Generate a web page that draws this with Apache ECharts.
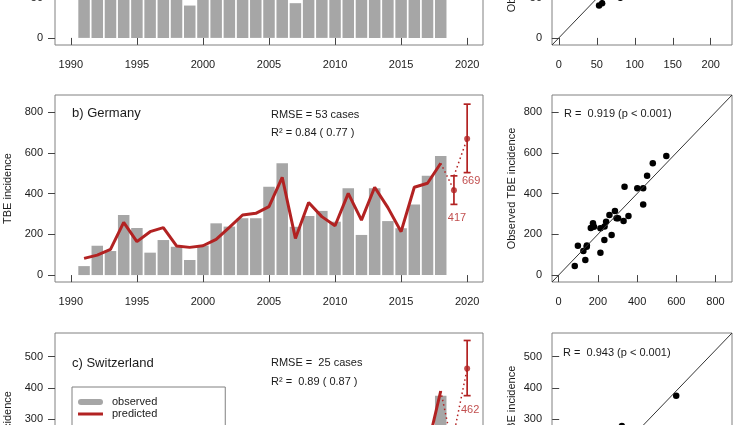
<!DOCTYPE html>
<html>
<head>
<meta charset="utf-8">
<script src="https://cdn.jsdelivr.net/npm/echarts@6/dist/echarts.min.js"></script>
<style>
    html, body { margin: 0; padding: 0; background: #fff; }
    #chart { width: 736px; height: 425px; }
</style>
</head>
<body>
<div id="chart"></div>
<script>
// years with observed / predicted TBE cases
const years = [1991, 1992, 1993, 1994, 1995, 1996, 1997, 1998, 1999, 2000,
    2001, 2002, 2003, 2004, 2005, 2006, 2007, 2008, 2009, 2010,
    2011, 2012, 2013, 2014, 2015, 2016, 2017, 2018]

// a) Austria (only the bottom of this panel is visible)
const observedAT = [89, 84, 102, 178, 109, 128, 99, 62, 41, 60, 56, 60, 82, 56, 100, 84, 44, 86, 79, 63, 113, 51, 99, 81, 73, 89, 116, 154]
const predictedAT = [95, 88, 98, 140, 115, 120, 95, 70, 53, 62, 65, 68, 78, 66, 92, 86, 57, 80, 76, 70, 100, 81, 92, 84, 78, 92, 110, 140]

// b) Germany
const observedDE = [44, 144, 118, 295, 231, 110, 172, 139, 74, 145, 254, 238, 279, 279, 434, 549, 237, 290, 315, 262, 426, 197, 426, 265, 230, 347, 487, 585]
const predictedDE = [82, 98, 126, 259, 164, 213, 233, 143, 136, 144, 175, 234, 295, 303, 336, 480, 180, 356, 287, 242, 401, 270, 431, 331, 213, 431, 451, 549]

// c) Switzerland (only the top of this panel is visible)
const observedCH = [75, 85, 100, 85, 60, 62, 123, 68, 112, 91, 107, 52, 115, 125, 204, 259, 108, 117, 115, 96, 174, 95, 204, 113, 117, 206, 278, 375]
const predictedCH = [70, 80, 95, 88, 70, 66, 110, 75, 105, 90, 100, 65, 110, 130, 190, 240, 120, 125, 118, 100, 165, 105, 190, 125, 120, 195, 209, 390]

// forecasts 2019 / 2020 with intervals
const forecastYears = [2019, 2020]
const forecastAT = [120, 160]
const lowAT = [85, 110]
const highAT = [155, 210]
const forecastDE = [417, 669]
const lowDE = [347, 503]
const highDE = [487, 839]
const forecastCH = [190, 462]
const lowCH = [130, 375]
const highCH = [253, 552]

// tick labels
const yearTicks = [1990, 1995, 2000, 2005, 2010, 2015, 2020]
const ticksAT = [0, 50, 100, 150, 200]
const ticksDE = [0, 200, 400, 600, 800]
const ticksCH = [0, 100, 200, 300, 400, 500]

const font = 'Liberation Sans, Arial, Helvetica, sans-serif'
const red = '#b22222'
const grey = '#a6a6a6'
const boxCol = '#808080'
const ink = '#1a1a1a'

const panels = [
    { obs: observedAT, pred: predictedAT, fc: forecastAT, lo: lowAT, hi: highAT, ticks: ticksAT, lim: [-9, 228], top: -142, lab: [[3, 28], [4, 42]] },
    { obs: observedDE, pred: predictedDE, fc: forecastDE, lo: lowDE, hi: highDE, ticks: ticksDE, lim: [-34, 884], top: 95, lab: [[3, 28], [4, 42]] },
    { obs: observedCH, pred: predictedCH, fc: forecastCH, lo: lowCH, hi: highCH, ticks: ticksCH, lim: [-24, 576], top: 333, lab: [[3, 28], [3, 41]] }
]

function axis(gi, min, max, ticks, margin, extra) {
    return Object.assign({
        gridIndex: gi,
        type: 'value',
        min: min,
        max: max,
        axisLine: { show: false },
        splitLine: { show: false },
        axisTick: { show: true, inside: false, length: 7, customValues: ticks, lineStyle: { color: '#444', width: 1 } },
        axisLabel: { customValues: ticks, margin: margin, fontSize: 11, color: ink, fontFamily: font, formatter: v => String(v) }
    }, extra || {})
}

const grid = [], xAxis = [], yAxis = [], series = []

panels.forEach((p, i) => {
    const g1 = 2 * i, g2 = 2 * i + 1
    grid.push({ left: 55, top: p.top, width: 428, height: 187, show: true, borderColor: boxCol, borderWidth: 1, containLabel: false, outerBoundsMode: 'none' })
    grid.push({ left: 552, top: p.top, width: 180, height: 187, show: true, borderColor: boxCol, borderWidth: 1, containLabel: false, outerBoundsMode: 'none' })
    xAxis.push(axis(g1, 1988.8, 2021.2, yearTicks, 14))
    yAxis.push(axis(g1, p.lim[0], p.lim[1], p.ticks, 12, {
        name: 'TBE incidence', nameLocation: 'middle', nameGap: 41,
        nameTextStyle: { fontSize: 11, color: ink, fontFamily: font }
    }))
    xAxis.push(axis(g2, p.lim[0], p.lim[1], p.ticks, 14))
    yAxis.push(axis(g2, p.lim[0], p.lim[1], p.ticks, 10, {
        name: 'Observed TBE incidence', nameLocation: 'middle', nameGap: 35,
        nameTextStyle: { fontSize: 11, color: ink, fontFamily: font }
    }))

    // observed bars
    series.push({
        type: 'bar', name: 'observed', xAxisIndex: g1, yAxisIndex: g1,
        data: years.map((y, k) => [y, p.obs[k]]),
        barWidth: 11.5, itemStyle: { color: grey }
    })
    // predicted line
    series.push({
        type: 'line', name: 'predicted', xAxisIndex: g1, yAxisIndex: g1,
        data: years.map((y, k) => [y, p.pred[k]]),
        symbol: 'none', lineStyle: { color: red, width: 3 }, itemStyle: { color: red }, z: 3
    })
    // dotted links to the forecasts
    const last = years.length - 1
    series.push({
        type: 'line', xAxisIndex: g1, yAxisIndex: g1, symbol: 'none',
        data: [[years[last], p.pred[last]], [forecastYears[0], p.fc[0]]],
        lineStyle: { color: red, width: 1.5, type: [1.5, 3] }, z: 3
    })
    series.push({
        type: 'line', xAxisIndex: g1, yAxisIndex: g1, symbol: 'none',
        data: [[forecastYears[0], p.hi[0]], [forecastYears[1], p.fc[1]]],
        lineStyle: { color: red, width: 1.5, type: [1.5, 3] }, z: 3
    })
    // error bars
    series.push({
        type: 'custom', xAxisIndex: g1, yAxisIndex: g1,
        data: forecastYears.map((y, k) => [y, p.lo[k], p.hi[k]]),
        encode: { x: 0, y: [1, 2] },
        renderItem: (params, api) => {
            const lo = api.coord([api.value(0), api.value(1)])
            const hi = api.coord([api.value(0), api.value(2)])
            const w = 3.5
            const st = { stroke: red, lineWidth: 1.7 }
            return {
                type: 'group',
                children: [
                    { type: 'line', shape: { x1: lo[0], y1: lo[1], x2: hi[0], y2: hi[1] }, style: st },
                    { type: 'line', shape: { x1: lo[0] - w, y1: lo[1], x2: lo[0] + w, y2: lo[1] }, style: st },
                    { type: 'line', shape: { x1: hi[0] - w, y1: hi[1], x2: hi[0] + w, y2: hi[1] }, style: st }
                ]
            }
        },
        z: 4
    })
    // forecast points + value labels
    series.push({
        type: 'scatter', xAxisIndex: g1, yAxisIndex: g1,
        data: forecastYears.map((y, k) => ({ value: [y, p.fc[k]], label: { offset: p.lab[k] } })),
        symbolSize: 6, itemStyle: { color: red },
        label: { show: true, position: 'inside', formatter: d => String(d.value[1]), color: red, fontSize: 11, fontFamily: font },
        z: 5
    })

    // scatter: 1:1 line and points
    series.push({
        type: 'line', xAxisIndex: g2, yAxisIndex: g2, symbol: 'none',
        data: [[p.lim[0], p.lim[0]], [p.lim[1], p.lim[1]]],
        lineStyle: { color: '#333', width: 1 }
    })
    series.push({
        type: 'scatter', xAxisIndex: g2, yAxisIndex: g2,
        data: years.map((y, k) => [p.pred[k], p.obs[k]]),
        symbolSize: 6.5, itemStyle: { color: '#000', opacity: 1 }
    })
})

function label(x, y, text, size) {
    return { type: 'text', x: x, y: y, style: { text: text, font: (size || 11) + 'px ' + font, fill: ink, verticalAlign: 'middle' } }
}

const myChart = echarts.init(document.getElementById('chart'))
myChart.setOption({
    animation: false,
    backgroundColor: '#fff',
    grid: grid,
    xAxis: xAxis,
    yAxis: yAxis,
    series: series,
    legend: {
        orient: 'vertical', left: 72, top: 387, height: 80,
        data: [
            { name: 'observed', icon: 'path://M3,0 L22,0 A3,3 0 0 1 22,6 L3,6 A3,3 0 0 1 3,0 Z' },
            { name: 'predicted', icon: 'path://M0,0 L25,0 L25,0.01 Z M0,1.6 L25,1.6 L25,4.4 L0,4.4 Z M0,6 L25,6 L25,6.01 Z' }
        ],
        itemWidth: 25, itemHeight: 6, itemGap: 0,
        padding: [9, 68, 30, 6],
        borderColor: boxCol, borderWidth: 1,
        textStyle: { fontSize: 11, color: ink, fontFamily: font, lineHeight: 12, padding: [0, 0, 0, 4] }
    },
    graphic: [
        label(72, 113, 'b) Germany', 13),
        label(271, 115, 'RMSE = 53 cases'),
        label(271, 133, 'R² = 0.84 ( 0.77 )'),
        label(564, 114, 'R =  0.919 (p < 0.001)'),
        label(72, 363, 'c) Switzerland', 13),
        label(271, 363, 'RMSE =  25 cases'),
        label(271, 382, 'R² =  0.89 ( 0.87 )'),
        label(563, 353, 'R =  0.943 (p < 0.001)')
    ]
})
</script>
</body>
</html>
